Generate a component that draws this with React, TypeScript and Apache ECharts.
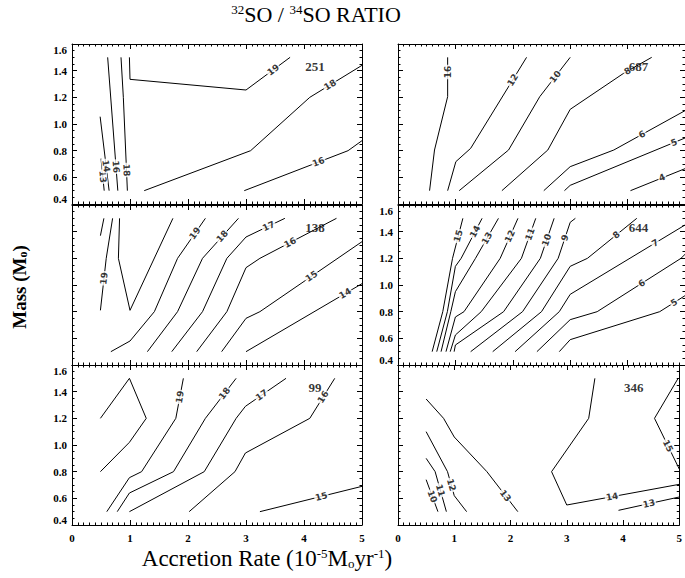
import React, { useEffect, useRef } from 'react';
import * as echarts from 'echarts';

type Pt = [number, number];

// ---------- axes ----------
const xTicks = [0, 1, 2, 3, 4, 5];
const yTicks = [0.4, 0.6, 0.8, 1.0, 1.2, 1.4, 1.6];

// ---------- panel identifiers ----------
const panelNumbers = ['251', '687', '138', '644', '99', '346'];
const panelNumberAt: Pt = [4.19, 1.43];

// ---------- top-left (251) ----------
const tl13: Pt[] = [[0.5, 0.74], [0.555, 0.5]];
const tl14: Pt[] = [[0.485, 1.055], [0.64, 0.5]];
const tl16a: Pt[] = [[0.615, 1.5], [0.79, 0.5]];
const tl18a: Pt[] = [[0.845, 1.5], [0.885, 1.2], [0.955, 0.5]];
const tl19: Pt[] = [[0.99, 1.5], [1.0, 1.335], [3.0, 1.255], [3.76, 1.5]];
const tl18b: Pt[] = [[1.245, 0.5], [3.08, 0.8], [4.1, 1.2], [5.0, 1.44]];
const tl16b: Pt[] = [[2.97, 0.5], [4.76, 0.8], [5.0, 0.875]];

// ---------- top-right (687) ----------
const tr16: Pt[] = [[0.55, 0.5], [0.636, 0.805], [0.865, 1.205], [0.865, 1.5]];
const tr12: Pt[] = [[0.865, 0.5], [1.008, 0.7175], [1.266, 0.8175], [2.24, 1.5]];
const tr10: Pt[] = [[1.066, 0.5], [1.926, 0.805], [2.47, 1.205], [3.0, 1.5]];
const tr8: Pt[] = [[1.81, 0.5], [2.61, 0.805], [3.0, 1.11], [3.93, 1.38], [4.42, 1.5]];
const tr6: Pt[] = [[2.54, 0.5], [3.0, 0.68], [3.76, 0.805], [5.0, 1.1]];
const tr5: Pt[] = [[2.9, 0.5], [3.0, 0.54], [5.0, 0.895]];
const tr4: Pt[] = [[4.05, 0.5], [5.0, 0.665]];

// ---------- middle-left (138) ----------
const ml20a: Pt[] = [[0.49, 1.37], [0.55, 1.5]];
const ml19a: Pt[] = [[0.49, 0.81], [0.59, 1.2], [0.7, 1.5]];
const ml20b: Pt[] = [[0.82, 1.5], [0.8, 1.2], [1.0, 0.81], [1.74, 1.5]];
const ml19b: Pt[] = [[0.67, 0.5], [1.0, 0.58], [1.42, 0.8], [1.82, 1.2], [2.3, 1.5]];
const ml18: Pt[] = [[1.3, 0.5], [1.82, 0.8], [2.25, 1.2], [2.87, 1.5]];
const ml17: Pt[] = [[1.72, 0.5], [2.25, 0.8], [2.67, 1.2], [3.0, 1.36], [3.67, 1.5]];
const ml16: Pt[] = [[2.15, 0.5], [2.67, 0.8], [3.0, 1.13], [3.24, 1.2], [4.56, 1.5]];
const ml15: Pt[] = [[2.58, 0.5], [3.0, 0.75], [3.24, 0.8], [5.0, 1.325]];
const ml14: Pt[] = [[3.0, 0.5], [5.0, 1.01]];

// ---------- middle-right (644) ----------
const mr15: Pt[] = [[0.595, 0.5], [0.78, 0.8], [0.95, 1.2], [1.13, 1.5]];
const mr14: Pt[] = [[0.675, 0.5], [0.86, 0.8], [1.0, 1.14], [1.1, 1.2], [1.465, 1.5]];
const mr13: Pt[] = [[0.75, 0.5], [0.92, 0.8], [1.0, 0.95], [1.35, 1.2], [1.75, 1.5]];
const mr12: Pt[] = [[0.836, 0.5], [1.0, 0.76], [1.15, 0.8], [1.78, 1.2], [2.09, 1.5]];
const mr11: Pt[] = [[0.91, 0.5], [1.0, 0.625], [1.45, 0.8], [2.15, 1.2], [2.4, 1.5]];
const mr10: Pt[] = [[0.978, 0.5], [1.0, 0.55], [1.84, 0.8], [2.48, 1.2], [2.72, 1.5]];
const mr9: Pt[] = [[1.266, 0.5], [2.17, 0.8], [2.79, 1.2], [3.0, 1.47], [3.09, 1.5]];
const mr8: Pt[] = [[1.65, 0.5], [2.5, 0.8], [3.0, 1.14], [3.3, 1.2], [4.16, 1.5]];
const mr7: Pt[] = [[2.04, 0.5], [2.81, 0.8], [3.0, 0.93], [5.0, 1.45]];
const mr6: Pt[] = [[2.42, 0.5], [3.0, 0.74], [3.47, 0.8], [4.93, 1.2], [5.0, 1.23]];
const mr5: Pt[] = [[2.81, 0.5], [3.0, 0.59], [4.56, 0.8], [5.0, 0.92]];

// ---------- bottom-left (99) ----------
const bl20: Pt[] = [[0.49, 1.2], [0.99, 1.5], [1.28, 1.2], [0.99, 1.02], [0.49, 0.8]];
const bl19: Pt[] = [[0.6, 0.5], [0.99, 0.755], [1.2, 0.8], [1.79, 1.2], [1.92, 1.5]];
const bl18: Pt[] = [[0.78, 0.5], [0.99, 0.64], [1.75, 0.8], [2.3, 1.2], [2.83, 1.5]];
const bl17: Pt[] = [[0.99, 0.5], [2.28, 0.8], [2.83, 1.2], [2.99, 1.29], [3.69, 1.5]];
const bl16: Pt[] = [[2.02, 0.5], [2.81, 0.8], [2.99, 0.94], [4.1, 1.2], [4.53, 1.5]];
const bl15: Pt[] = [[3.24, 0.5], [5.0, 0.69]];

// ---------- bottom-right (346) ----------
const br10: Pt[] = [[0.5, 0.74], [0.71, 0.5]];
const br11: Pt[] = [[0.5, 0.9], [0.66, 0.8], [0.86, 0.5]];
const br12: Pt[] = [[0.5, 1.1], [0.88, 0.8], [1.0, 0.62], [1.22, 0.5]];
const br13a: Pt[] = [[0.5, 1.345], [0.81, 1.2], [1.0, 1.06], [1.58, 0.8], [2.13, 0.5]];
const br14: Pt[] = [[3.5, 1.5], [3.39, 1.2], [2.73, 0.8], [3.0, 0.55], [5.0, 0.705]];
const br13b: Pt[] = [[3.92, 0.51], [5.0, 0.61]];
const br15: Pt[] = [[4.98, 1.5], [4.56, 1.2], [5.0, 0.82]];

interface Contour { level: string; pts: Pt[]; at: Pt | null }

const panels: Contour[][] = [
  [
    { level: '13', pts: tl13, at: [0.531, 0.605] },
    { level: '14', pts: tl14, at: [0.588, 0.685] },
    { level: '16', pts: tl16a, at: [0.758, 0.68] },
    { level: '18', pts: tl18a, at: [0.939, 0.655] },
    { level: '19', pts: tl19, at: [3.47, 1.406] },
    { level: '18', pts: tl18b, at: [4.45, 1.293] },
    { level: '16', pts: tl16b, at: [4.25, 0.715] },
  ],
  [
    { level: '16', pts: tr16, at: [0.865, 1.39] },
    { level: '12', pts: tr12, at: [2.0, 1.33] },
    { level: '10', pts: tr10, at: [2.74, 1.355] },
    { level: '8', pts: tr8, at: [4.0, 1.397] },
    { level: '6', pts: tr6, at: [4.25, 0.922] },
    { level: '5', pts: tr5, at: [4.81, 0.861] },
    { level: '4', pts: tr4, at: [4.6, 0.598] },
  ],
  [
    { level: '', pts: ml20a, at: null },
    { level: '19', pts: ml19a, at: [0.551, 1.05] },
    { level: '', pts: ml20b, at: null },
    { level: '19', pts: ml19b, at: [2.12, 1.3875] },
    { level: '18', pts: ml18, at: [2.59, 1.365] },
    { level: '17', pts: ml17, at: [3.39, 1.441] },
    { level: '16', pts: ml16, at: [3.76, 1.318] },
    { level: '15', pts: ml15, at: [4.13, 1.065] },
    { level: '14', pts: ml14, at: [4.71, 0.936] },
  ],
  [
    { level: '15', pts: mr15, at: [1.05, 1.367] },
    { level: '14', pts: mr14, at: [1.343, 1.4] },
    { level: '13', pts: mr13, at: [1.55, 1.35] },
    { level: '12', pts: mr12, at: [1.95, 1.365] },
    { level: '11', pts: mr11, at: [2.3, 1.38] },
    { level: '10', pts: mr10, at: [2.59, 1.3375] },
    { level: '9', pts: mr9, at: [2.91, 1.354] },
    { level: '8', pts: mr8, at: [3.805, 1.376] },
    { level: '7', pts: mr7, at: [4.48, 1.315] },
    { level: '6', pts: mr6, at: [4.246, 1.013] },
    { level: '5', pts: mr5, at: [4.81, 0.868] },
  ],
  [
    { level: '', pts: bl20, at: null },
    { level: '19', pts: bl19, at: [1.86, 1.36] },
    { level: '18', pts: bl18, at: [2.63, 1.387] },
    { level: '17', pts: bl17, at: [3.27, 1.374] },
    { level: '16', pts: bl16, at: [4.33, 1.36] },
    { level: '15', pts: bl15, at: [4.3, 0.614] },
  ],
  [
    { level: '10', pts: br10, at: [0.61, 0.614] },
    { level: '11', pts: br11, at: [0.753, 0.66] },
    { level: '12', pts: br12, at: [0.947, 0.7] },
    { level: '13', pts: br13a, at: [1.91, 0.62] },
    { level: '14', pts: br14, at: [3.805, 0.612] },
    { level: '13', pts: br13b, at: [4.46, 0.56] },
    { level: '15', pts: br15, at: [4.8, 0.993] },
  ],
];

const grids = [
  { left: 72, top: 44, width: 290, height: 160 },
  { left: 398, top: 44, width: 291, height: 160 },
  { left: 72, top: 205, width: 290, height: 160 },
  { left: 398, top: 205, width: 291, height: 160 },
  { left: 72, top: 365, width: 290, height: 160 },
  { left: 398, top: 365, width: 291, height: 160 },
];

const showYLabels = [true, false, false, true, true, false];
const showXLabels = [false, false, false, false, true, true];

const SERIF = '"Liberation Serif", "Times New Roman", serif';
const SANS = '"DejaVu Sans", "Liberation Sans", Arial, sans-serif';

function angleAt(pts: Pt[], at: Pt, kx: number, ky: number): number {
  let best = 0;
  let bestD = Infinity;
  const px = at[0] * kx;
  const py = at[1] * ky;
  for (let i = 0; i < pts.length - 1; i++) {
    const ax = pts[i][0] * kx, ay = pts[i][1] * ky;
    const bx = pts[i + 1][0] * kx, by = pts[i + 1][1] * ky;
    const dx = bx - ax, dy = by - ay;
    const L = dx * dx + dy * dy || 1;
    let t = ((px - ax) * dx + (py - ay) * dy) / L;
    t = Math.max(0, Math.min(1, t));
    const qx = ax + t * dx - px, qy = ay + t * dy - py;
    const d = qx * qx + qy * qy;
    if (d < bestD) { bestD = d; best = i; }
  }
  const a = pts[best], b = pts[best + 1];
  let ang = (Math.atan2((b[1] - a[1]) * ky, (b[0] - a[0]) * kx) * 180) / Math.PI;
  while (ang > 90) ang -= 180;
  while (ang <= -90) ang += 180;
  return ang;
}

function buildOption(): any {
  const xMin = xTicks[0], xMax = xTicks[xTicks.length - 1];
  const yMin = yTicks[0], yMax = yTicks[yTicks.length - 1];
  const common = {
    type: 'value',
    axisLine: { show: true, onZero: false, lineStyle: { color: '#000', width: 1 } },
    axisTick: { show: true, inside: true, length: 5, lineStyle: { color: '#000', width: 1 } },
    splitLine: { show: false },
  };
  const xAxis: any[] = [];
  const yAxis: any[] = [];
  const series: any[] = [];
  grids.forEach((g, p) => {
    const minorX = { show: true, splitNumber: 10, length: 2.5, lineStyle: { color: '#000', width: 1 } };
    const minorY = { show: true, splitNumber: 4, length: 2.5, lineStyle: { color: '#000', width: 1 } };
    xAxis.push({
      ...common, gridIndex: p, position: 'bottom', min: xMin, max: xMax, interval: 1, minorTick: minorX,
      axisLabel: {
        show: showXLabels[p], margin: 7, color: '#000', fontFamily: SERIF, fontWeight: 'bold', fontSize: 11,
        formatter: (v: number) => String(Math.round(v)),
      },
    });
    xAxis.push({
      ...common, gridIndex: p, position: 'top', min: xMin, max: xMax, interval: 1, minorTick: minorX,
      axisLabel: { show: false },
    });
    yAxis.push({
      ...common, gridIndex: p, position: 'left', min: yMin, max: yMax, interval: 0.2, minorTick: minorY,
      axisLabel: {
        show: showYLabels[p], margin: 5, color: '#000', fontFamily: SERIF, fontWeight: 'bold', fontSize: 11,
        showMinLabel: true, showMaxLabel: true,
        verticalAlignMinLabel: 'bottom', verticalAlignMaxLabel: 'top',
        formatter: (v: number) => v.toFixed(1),
      },
    });
    yAxis.push({
      ...common, gridIndex: p, position: 'right', min: yMin, max: yMax, interval: 0.2, minorTick: minorY,
      axisLabel: { show: false },
    });

    const kx = g.width / (xMax - xMin);
    const ky = g.height / (yMax - yMin);
    const labelData: any[] = [];
    panels[p].forEach((c) => {
      series.push({
        type: 'line', xAxisIndex: 2 * p, yAxisIndex: 2 * p, data: c.pts,
        symbol: 'none', showSymbol: false, silent: true, z: 2, clip: true,
        lineStyle: { color: '#000', width: 1 },
      });
      if (c.at) {
        labelData.push({ value: c.at, label: { formatter: c.level, rotate: angleAt(c.pts, c.at, kx, ky) } });
      }
    });
    labelData.push({
      value: panelNumberAt,
      label: {
        formatter: panelNumbers[p], rotate: 0, fontSize: 13, fontWeight: 'bold', fontFamily: SERIF,
        backgroundColor: 'transparent', padding: 0,
      },
    });
    series.push({
      type: 'scatter', xAxisIndex: 2 * p, yAxisIndex: 2 * p, data: labelData,
      symbolSize: 1, itemStyle: { color: 'rgba(0,0,0,0)' }, silent: true, z: 5, clip: false,
      label: {
        show: true, position: 'inside', color: '#000', fontSize: 9, fontWeight: 'bold',
        fontFamily: SANS, backgroundColor: '#fff', padding: [0, 1],
      },
    });
  });

  return {
    animation: false,
    backgroundColor: '#fff',
    grid: grids.map((g) => ({ ...g, containLabel: false })),
    xAxis,
    yAxis,
    series,
    graphic: [
      {
        type: 'text', x: 316, y: 14, silent: true,
        style: {
          text: '{s|32}SO / {s|34}SO RATIO', fill: '#000',
          fontSize: 22, fontFamily: SERIF, align: 'center', verticalAlign: 'middle',
          rich: { s: { fontSize: 13, fontFamily: SERIF, verticalAlign: 'top', fill: '#000' } },
        },
      },
      {
        type: 'text', x: 267, y: 558, silent: true,
        style: {
          text: 'Accretion Rate (10{s|-5}M{b|o}yr{s|-1})', fill: '#000',
          fontSize: 23, fontFamily: SERIF, align: 'center', verticalAlign: 'middle',
          rich: {
            s: { fontSize: 13, fontFamily: SERIF, verticalAlign: 'top', fill: '#000' },
            b: { fontSize: 13, fontFamily: SERIF, verticalAlign: 'bottom', fill: '#000' },
          },
        },
      },
      {
        type: 'text', x: 19, y: 287, rotation: Math.PI / 2, silent: true,
        style: {
          text: 'Mass (M{b|o})', fill: '#000',
          fontSize: 19, fontWeight: 'bold', fontFamily: SERIF, align: 'center', verticalAlign: 'middle',
          rich: { b: { fontSize: 12, fontWeight: 'bold', fontFamily: SERIF, verticalAlign: 'bottom', fill: '#000' } },
        },
      },
    ],
  };
}

export default function App() {
  const ref = useRef<HTMLDivElement>(null);
  useEffect(() => {
    if (!ref.current) return;
    const chart = echarts.init(ref.current, undefined, { renderer: 'svg' });
    chart.setOption(buildOption());
    return () => chart.dispose();
  }, []);
  return (
    <div
      ref={ref}
      style={{ position: 'fixed', left: 0, top: 0, width: 685, height: 578, background: '#fff' }}
    />
  );
}
